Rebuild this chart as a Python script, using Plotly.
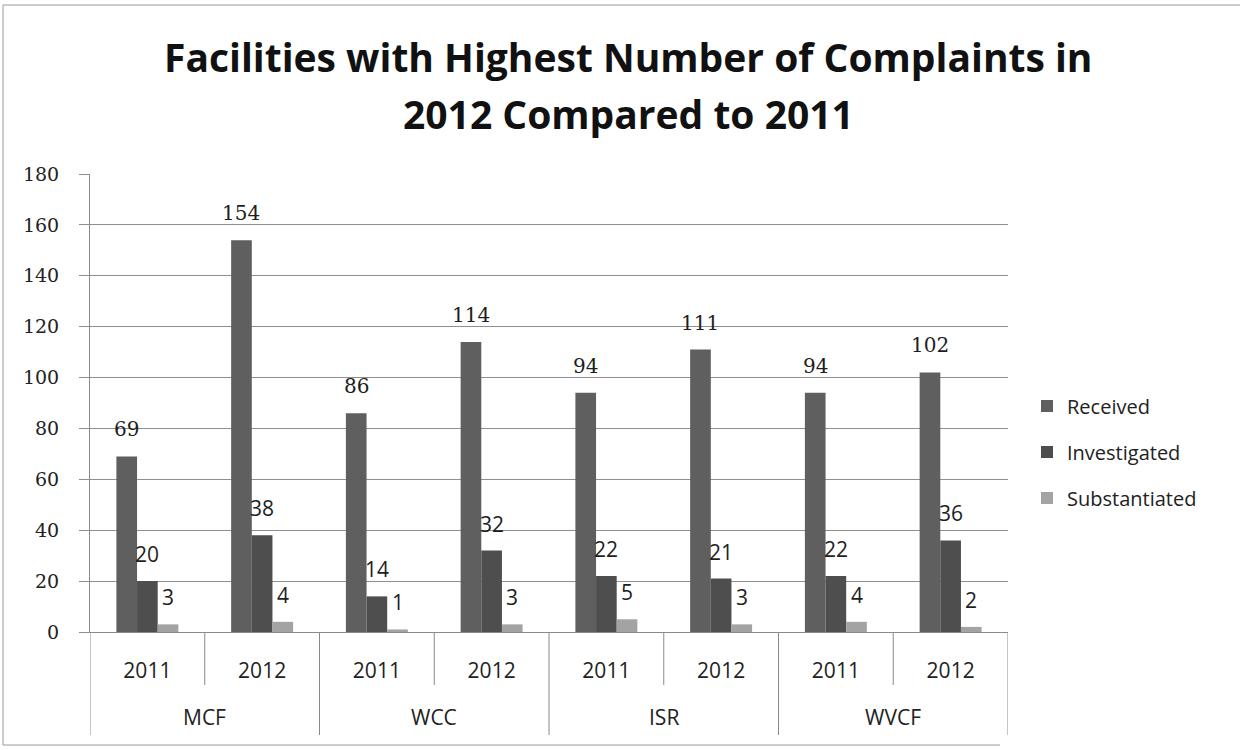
import plotly.graph_objects as go

# Complaint counts by facility and year
facility_names = ["MCF", "WCC", "ISR", "WVCF"]
facilities = ["MCF", "MCF", "WCC", "WCC", "ISR", "ISR", "WVCF", "WVCF"]
years = ["2011", "2012", "2011", "2012", "2011", "2012", "2011", "2012"]
received = [69, 154, 86, 114, 94, 111, 94, 102]
investigated = [20, 38, 14, 32, 22, 21, 22, 36]
substantiated = [3, 4, 1, 3, 5, 3, 4, 2]

series_names = ["Received", "Investigated", "Substantiated"]
series_values = [received, investigated, substantiated]
series_colors = ["#5f5f5f", "#4e4e4e", "#a3a3a3"]
label_fonts = ["DejaVu Serif", "Open Sans", "Open Sans"]

SANS = "Open Sans"
SERIF = "DejaVu Serif"

W, H = 1244, 750
L, R, T, B = 90, 236, 174, 118
pw, ph = W - L - R, H - T - B

def px_x(v):
    return (v - L) / pw

def px_y(v):
    return (H - B - v) / ph

n = len(years)
pos = list(range(n))
bar_w = 0.18
n_series = len(series_names)

fig = go.Figure()
annotations = []
for k, (name, vals, color, lf) in enumerate(zip(series_names, series_values,
                                                 series_colors, label_fonts)):
    off = -n_series * bar_w / 2 + k * bar_w
    fig.add_trace(go.Bar(
        name=name,
        x=pos,
        y=vals,
        width=bar_w,
        offset=off,
        marker=dict(color=color, line=dict(width=0)),
        legendgroup=name,
        hoverinfo="x+y+name",
    ))
    # value labels above each bar
    for i, v in enumerate(vals):
        annotations.append(dict(
            x=i + off + bar_w / 2, y=v, xref="x", yref="y",
            text=str(v), showarrow=False,
            xanchor="center", yanchor="middle", yshift=27,
            font=dict(family=lf, size=21 if lf == SANS else 20, color="#1e1e1e"),
        ))

# facility names under each pair of years
for j, fac in enumerate(facility_names):
    annotations.append(dict(
        x=2 * j + 0.5, y=px_y(717), xref="x", yref="paper",
        text=fac, showarrow=False, xanchor="center", yanchor="middle",
        font=dict(family=SANS, size=21, color="#222"),
    ))

# two-line chart title
annotations.append(dict(
    x=px_x(628), y=px_y(57), xref="paper", yref="paper",
    text="<b>Facilities with Highest Number of Complaints in</b>",
    showarrow=False, xanchor="center", yanchor="middle",
    font=dict(family=SANS, size=39, color="#111"),
))
annotations.append(dict(
    x=px_x(628), y=px_y(114), xref="paper", yref="paper",
    text="<b>2012 Compared to 2011</b>",
    showarrow=False, xanchor="center", yanchor="middle",
    font=dict(family=SANS, size=39, color="#111"),
))

line_col = "#8a8a8a"
shapes = [
    # chart frame (top, left, bottom)
    dict(type="line", xref="paper", yref="paper",
         x0=px_x(3), x1=px_x(1240), y0=px_y(5), y1=px_y(5),
         line=dict(color="#9a9a9a", width=1)),
    dict(type="line", xref="paper", yref="paper",
         x0=px_x(3), x1=px_x(3), y0=px_y(5), y1=px_y(745),
         line=dict(color="#9a9a9a", width=1)),
    dict(type="line", xref="paper", yref="paper",
         x0=px_x(3), x1=px_x(1000), y0=px_y(745), y1=px_y(745),
         line=dict(color="#9a9a9a", width=1)),
]
# dividers: short between years, long between facilities
for b in range(n + 1):
    xb = b - 0.5
    bottom = 735 if b % 2 == 0 else 685
    shapes.append(dict(type="line", xref="x", yref="paper",
                       x0=xb, x1=xb, y0=0, y1=px_y(bottom),
                       line=dict(color=line_col, width=1)))

fig.update_layout(
    width=W, height=H,
    margin=dict(l=L, r=R, t=T, b=B),
    paper_bgcolor="white", plot_bgcolor="white",
    barmode="overlay",
    font=dict(family=SANS, color="#222"),
    xaxis=dict(
        range=[-0.5, n - 0.5],
        tickmode="array", tickvals=pos, ticktext=years,
        showline=True, linecolor=line_col, linewidth=1,
        showgrid=False, ticks="", ticklabelstandoff=20,
        tickfont=dict(family=SANS, size=21, color="#222"),
        zeroline=False, fixedrange=True,
    ),
    yaxis=dict(
        range=[0, 180], dtick=20,
        showgrid=True, gridcolor="#8f8f8f", gridwidth=1,
        showline=True, linecolor=line_col, linewidth=1,
        ticks="outside", ticklen=10, tickcolor="#8f8f8f",
        ticklabelstandoff=16,
        tickfont=dict(family=SERIF, size=19, color="#222"),
        zeroline=False,
    ),
    legend=dict(
        x=px_x(1027), y=px_y(452), xanchor="left", yanchor="middle",
        font=dict(family=SANS, size=20, color="#222"),
        traceorder="grouped", tracegroupgap=17,
        itemwidth=30, bgcolor="rgba(0,0,0,0)",
    ),
    annotations=annotations,
    shapes=shapes,
)

fig.write_html("out.html")
